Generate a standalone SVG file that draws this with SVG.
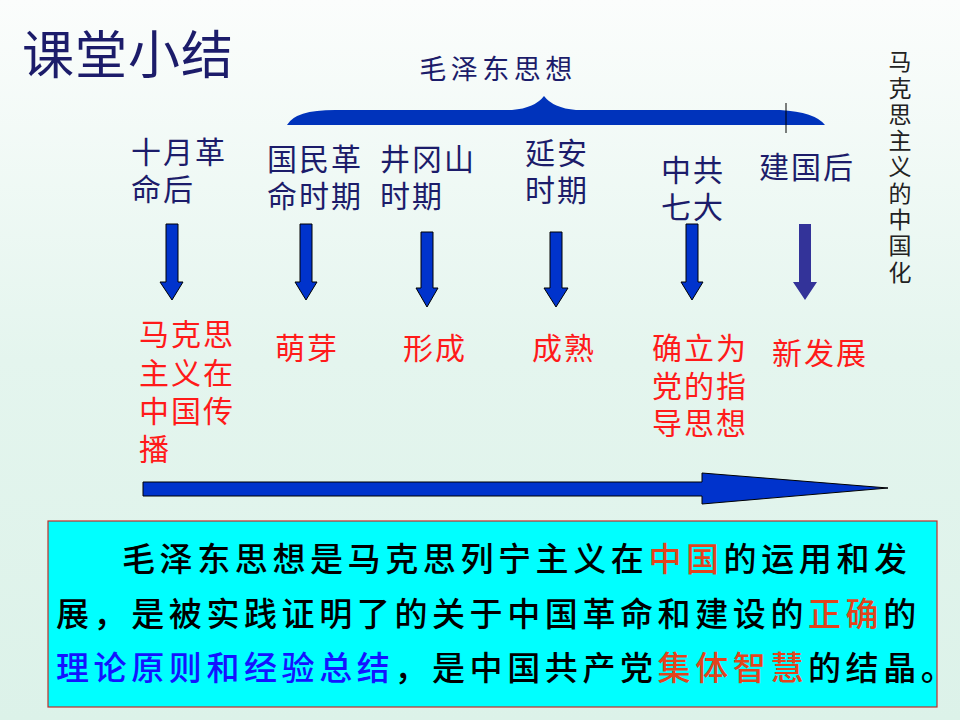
<svg xmlns="http://www.w3.org/2000/svg" width="960" height="720" viewBox="0 0 960 720">
<defs>
<linearGradient id="bg" x1="0" y1="0" x2="0" y2="1">
<stop offset="0" stop-color="#fbfdfc"/>
<stop offset="0.5" stop-color="#e4f5ee"/>
<stop offset="1" stop-color="#dcf2e9"/>
</linearGradient>
<style>
.cjk{font-family:"Noto Sans CJK SC","Noto Sans CJK JP",sans-serif;}
.navy{fill:#1c1c6a;font-size:30px;letter-spacing:2px;}
.red{fill:#ff1a1a;font-size:30px;letter-spacing:2px;}
.arrow{fill:#0033cc;stroke:#000;stroke-width:1;}
.body{font-size:33px;font-weight:500;fill:#000;letter-spacing:4.6px;}
.hl{fill:#e2441c;}
.bl{fill:#1414ff;}
</style>
</defs>
<rect width="960" height="720" fill="url(#bg)"/>

<g id="title"><text class="cjk" x="22" y="74" font-size="52" fill="#1c1c6a" letter-spacing="1">课堂小结</text></g>

<g id="brace">
<path d="M287,125 Q295,110 335,110 L512,110 Q535,108 544,96 Q553,108 576,110 L780,110 Q815,112 825,125 Z" fill="#0033bb"/>
<line x1="786" y1="103" x2="786" y2="133" stroke="#000" stroke-width="1"/>
<text class="cjk" x="498" y="79" font-size="27" fill="#1c1c6a" text-anchor="middle" letter-spacing="4.5">毛泽东思想</text>
</g>

<g id="vertical-label">
<text class="cjk" x="900" y="50" font-size="23" fill="#222" letter-spacing="3.3" style="writing-mode:vertical-rl">马克思主义的中国化</text>
</g>

<g id="n1" class="cjk">
<text class="navy" x="131" y="163">十月革<tspan x="131" dy="37">命后</tspan></text>
<path class="arrow" d="M166,224 H178 V282 H183 L172,300 L160,282 H166 Z"/>
<text class="red" x="139" y="345">马克思<tspan x="139" dy="39">主义在</tspan><tspan x="139" dy="38">中国传</tspan><tspan x="139" dy="38">播</tspan></text>
</g>

<g id="n2" class="cjk">
<text class="navy" x="267" y="170">国民革<tspan x="267" dy="37">命时期</tspan></text>
<path class="arrow" d="M300,224 H312 V282 H317 L306,300 L295,282 H300 Z"/>
<text class="red" x="275" y="359">萌芽</text>
</g>

<g id="n3" class="cjk">
<text class="navy" x="380" y="170">井冈山<tspan x="380" dy="37">时期</tspan></text>
<path class="arrow" d="M421,232 H433 V288 H438 L427,307 L416,288 H421 Z"/>
<text class="red" x="403" y="359">形成</text>
</g>

<g id="n4" class="cjk">
<text class="navy" x="525" y="164">延安<tspan x="525" dy="37">时期</tspan></text>
<path class="arrow" d="M550,232 H562 V288 H568 L556,307 L544,288 H550 Z"/>
<text class="red" x="532" y="359">成熟</text>
</g>

<g id="n5" class="cjk">
<text class="navy" x="661" y="181">中共<tspan x="661" dy="37">七大</tspan></text>
<path class="arrow" d="M686,224 H698 V282 H703 L692,300 L681,282 H686 Z"/>
<text class="red" x="652" y="359">确立为<tspan x="652" dy="38">党的指</tspan><tspan x="652" dy="37">导思想</tspan></text>
</g>

<g id="n6" class="cjk">
<text class="navy" x="759" y="178">建国后</text>
<path d="M799,224 H811 V282 H817 L805,300 L793,282 H799 Z" fill="#333399"/>
<text class="red" x="772" y="364">新发展</text>
</g>

<g id="connectors">
<path class="arrow" d="M143,482 H702 V473 L888,488 L702,504 V496 H143 Z"/>
</g>

<g id="summary" class="cjk">
<rect x="48" y="521" width="889" height="186" fill="#00ffff" stroke="#c0302c" stroke-width="1.2"/>
<text class="body" x="122" y="571">毛泽东思想是马克思列宁主义在<tspan class="hl">中国</tspan>的运用和发<tspan x="56" y="626">展，是被实践证明了的关于中国革命和建设的</tspan><tspan class="hl">正确</tspan>的<tspan x="56" y="680" class="bl">理论原则和经验总结</tspan>，是中国共产党<tspan class="hl">集体智慧</tspan>的结晶。</text>
</g>
</svg>
